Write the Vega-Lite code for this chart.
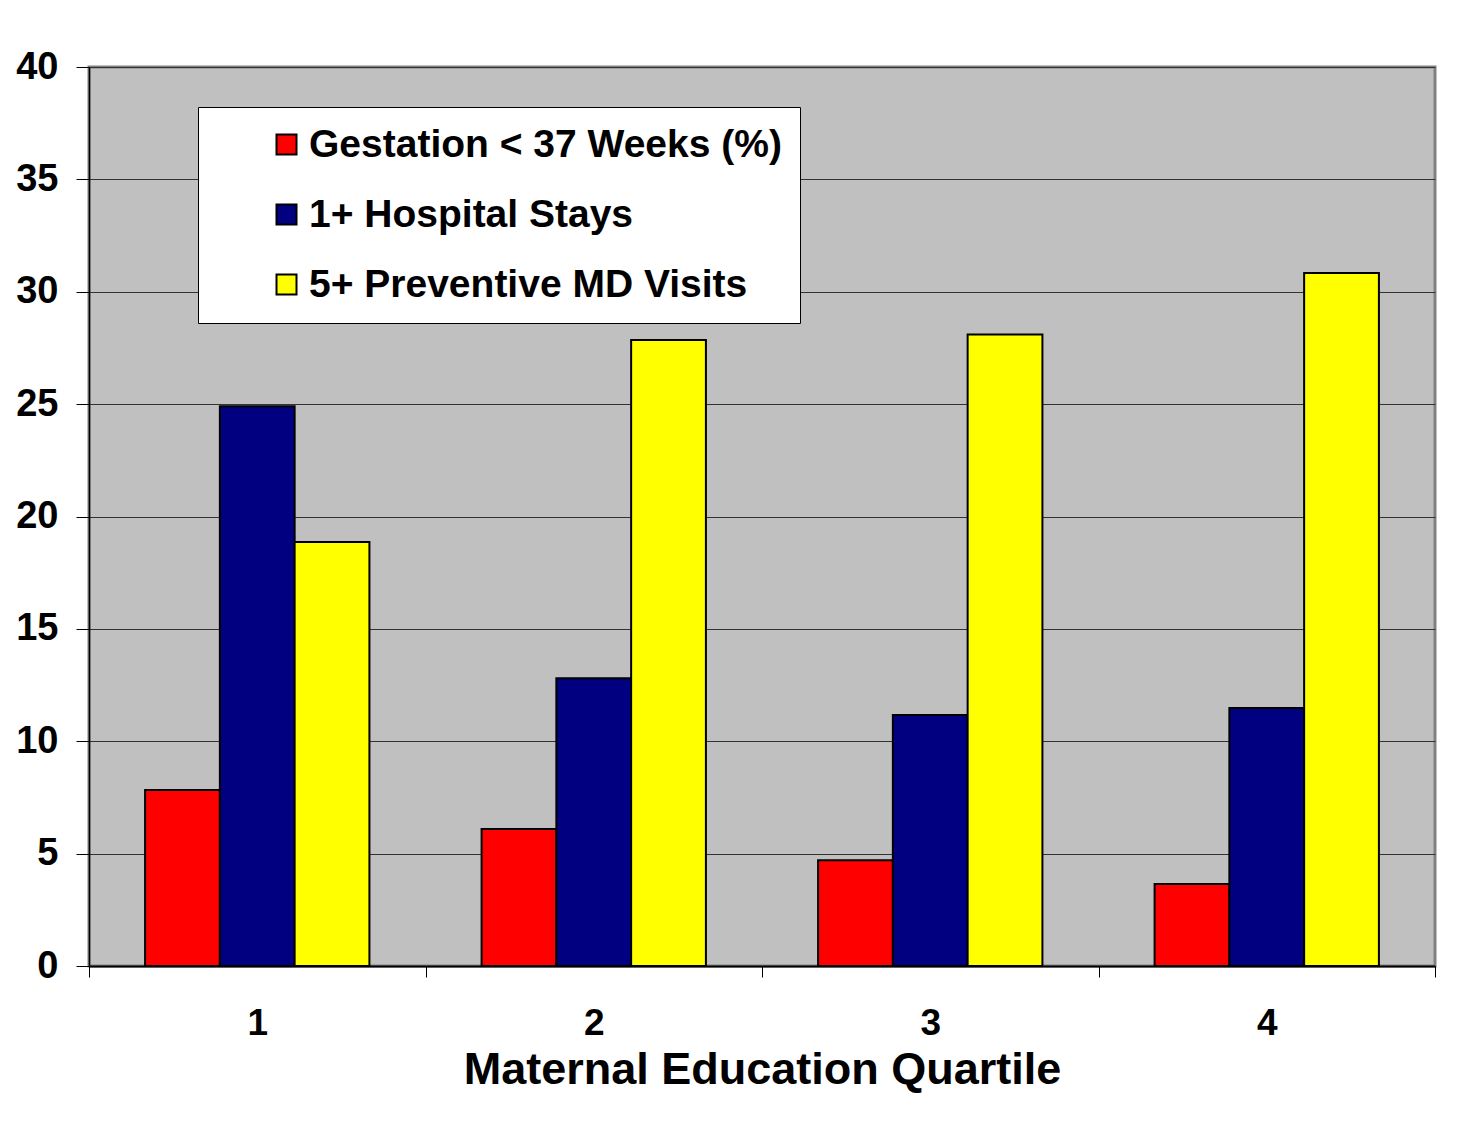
{
  "$schema": "https://vega.github.io/schema/vega-lite/v6.json",
  "width": 1346,
  "height": 899,
  "autosize": {"type": "none"},
  "padding": {"left": 89, "top": 67, "right": 23, "bottom": 167},
  "background": "white",
  "data": {
    "values": [
      {"quartile": "1", "series": "Gestation < 37 Weeks (%)", "value": 7.83},
      {"quartile": "1", "series": "1+ Hospital Stays", "value": 24.9},
      {"quartile": "1", "series": "5+ Preventive MD Visits", "value": 18.87},
      {"quartile": "2", "series": "Gestation < 37 Weeks (%)", "value": 6.1},
      {"quartile": "2", "series": "1+ Hospital Stays", "value": 12.8},
      {"quartile": "2", "series": "5+ Preventive MD Visits", "value": 27.85},
      {"quartile": "3", "series": "Gestation < 37 Weeks (%)", "value": 4.7},
      {"quartile": "3", "series": "1+ Hospital Stays", "value": 11.17},
      {"quartile": "3", "series": "5+ Preventive MD Visits", "value": 28.1},
      {"quartile": "4", "series": "Gestation < 37 Weeks (%)", "value": 3.65},
      {"quartile": "4", "series": "1+ Hospital Stays", "value": 11.48},
      {"quartile": "4", "series": "5+ Preventive MD Visits", "value": 30.83}
    ]
  },
  "mark": {"type": "bar", "stroke": "black", "strokeWidth": 2},
  "encoding": {
    "x": {
      "field": "quartile",
      "type": "nominal",
      "title": "Maternal Education Quartile",
      "scale": {"paddingInner": 0, "paddingOuter": 0},
      "axis": {
        "labelAngle": 0,
        "labelFont": "Liberation Sans",
        "labelFontWeight": "bold",
        "labelFontSize": 37,
        "labelColor": "black",
        "labelPadding": 28,
        "tickBand": "extent",
        "tickSize": 11,
        "tickColor": "black",
        "tickWidth": 1,
        "domainColor": "black",
        "domainWidth": 2,
        "titleFont": "Liberation Sans",
        "titleFontWeight": "bold",
        "titleFontSize": 45,
        "titleColor": "black",
        "titlePadding": 6
      }
    },
    "xOffset": {
      "field": "series",
      "type": "nominal",
      "sort": ["Gestation < 37 Weeks (%)", "1+ Hospital Stays", "5+ Preventive MD Visits"],
      "scale": {"paddingInner": 0, "paddingOuter": 0.75}
    },
    "y": {
      "field": "value",
      "type": "quantitative",
      "title": null,
      "scale": {"domain": [0, 40], "nice": false},
      "axis": {
        "values": [0, 5, 10, 15, 20, 25, 30, 35, 40],
        "labelFont": "Liberation Sans",
        "labelFontWeight": "bold",
        "labelFontSize": 38,
        "labelColor": "black",
        "labelPadding": 18,
        "tickSize": 13,
        "tickColor": "black",
        "tickWidth": 1,
        "domainColor": "black",
        "domainWidth": 1.5,
        "grid": true,
        "gridColor": "#333333",
        "gridWidth": 1
      }
    },
    "color": {
      "field": "series",
      "type": "nominal",
      "sort": ["Gestation < 37 Weeks (%)", "1+ Hospital Stays", "5+ Preventive MD Visits"],
      "scale": {
        "domain": ["Gestation < 37 Weeks (%)", "1+ Hospital Stays", "5+ Preventive MD Visits"],
        "range": ["#FF0000", "#000080", "#FFFF00"]
      },
      "legend": {
        "title": null,
        "orient": "none",
        "legendX": 109,
        "legendY": 40,
        "fillColor": "white",
        "strokeColor": "black",
        "padding": 18,
        "symbolType": "square",
        "symbolSize": 400,
        "symbolStrokeColor": "black",
        "symbolStrokeWidth": 2,
        "symbolOffset": 51,
        "labelOffset": 3,
        "labelFont": "Liberation Sans",
        "labelFontWeight": "bold",
        "labelFontSize": 39,
        "labelColor": "black",
        "labelLimit": 900,
        "rowPadding": 30
      }
    }
  },
  "config": {
    "view": {"fill": "#C0C0C0", "stroke": "#808080", "strokeWidth": 3}
  }
}
